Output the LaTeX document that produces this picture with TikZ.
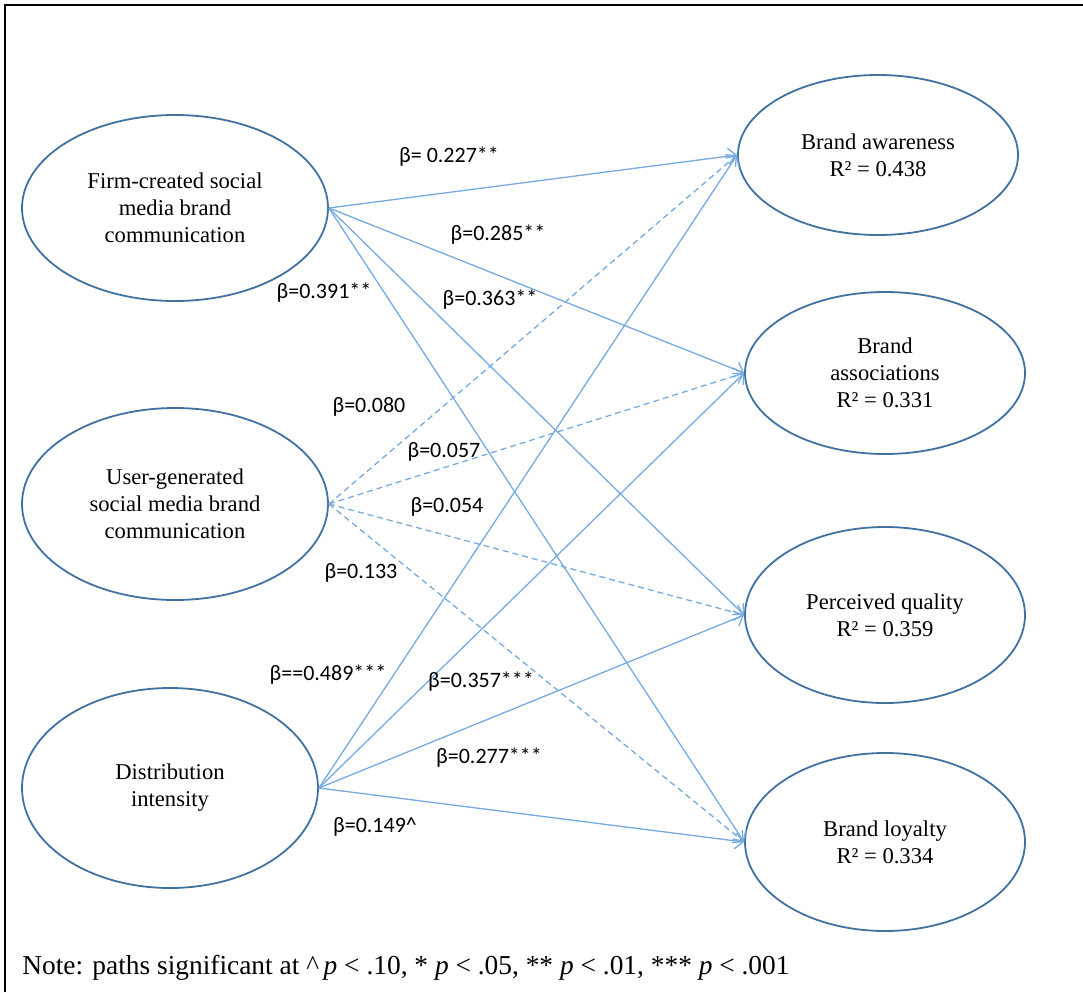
\documentclass[tikz,border=0pt]{standalone}
\usepackage{fontspec}
\setmainfont{Liberation Serif}
\newfontfamily\labelfont{Carlito}
\usepackage{tikz}
\usetikzlibrary{shapes.geometric,arrows.meta,positioning}
\definecolor{ellblue}{RGB}{65,113,160}
\definecolor{pathblue}{RGB}{118,170,224}

\begin{document}
\begin{tikzpicture}[x=0.5pt,y=-0.5pt,
        construct/.style={ellipse,draw=ellblue,line width=0.9pt,inner sep=0pt,align=center,
            font=\fontsize{11.3}{13.5}\selectfont},
        beta/.style={font=\labelfont\fontsize{11}{13}\selectfont,inner sep=0pt},
        sigpath/.style={draw=pathblue,line width=0.65pt,-{Straight Barb[length=4pt,width=8pt]}},
        nspath/.style={sigpath,dash pattern=on 3pt off 2pt}]
    \useasboundingbox (0,0) rectangle (1083,992);
    % frame
    \draw[line width=1pt] (5,992) -- (5,5) -- (1083,5);

    % exogenous constructs
    \node[construct,minimum width=153pt,minimum height=93pt] (firm) at (175,208) {Firm-created social\\media brand\\communication};
    \node[construct,minimum width=153pt,minimum height=96pt] (user) at (175,504) {User-generated\\social media brand\\communication};
    \node[construct,minimum width=148pt,minimum height=100pt] (dist) at (170,788) {Distribution\\intensity};

    % brand equity dimensions
    \node[construct,minimum width=140pt,minimum height=80pt] (aware) at (878,155) {Brand awareness\\R² = 0.438};
    \node[construct,minimum width=140pt,minimum height=81pt] (assoc) at (885,373) {Brand\\associations\\R² = 0.331};
    \node[construct,minimum width=140pt,minimum height=88pt] (qual) at (885,615) {Perceived quality\\R² = 0.359};
    \node[construct,minimum width=140pt,minimum height=89pt] (loyal) at (885,842) {Brand loyalty\\R² = 0.334};

    % paths
    \foreach \t in {aware,assoc,qual,loyal}
        \draw[sigpath] (firm.east) -- (\t.west);
    \foreach \t in {aware,assoc,qual,loyal}
        \draw[nspath] (user.east) -- (\t.west);
    \foreach \t in {aware,assoc,qual,loyal}
        \draw[sigpath] (dist.east) -- (\t.west);

    % coefficients
    \node[beta] (b227) at (449,157) {β= 0.227**};
    \node[beta] (b285) at (498,235) {β=0.285**};
    \node[beta] (b391) at (324,293) {β=0.391**};
    \node[beta] (b363) at (490,300) {β=0.363**};
    \node[beta] (b080) at (369,407) {β=0.080};
    \node[beta] (b057) at (444,452) {β=0.057};
    \node[beta] (b054) at (447,507) {β=0.054};
    \node[beta] (b133) at (361,573) {β=0.133};
    \node[beta] (b489) at (328,675) {β==0.489***};
    \node[beta] (b357) at (481,682) {β=0.357***};
    \node[beta] (b277) at (489,758) {β=0.277***};
    \node[beta] (b149) at (375,827) {β=0.149\textasciicircum};

    \node[anchor=west,inner sep=0pt,font=\fontsize{13.7}{16}\selectfont] (note) at (22,968)
        {Note: paths significant at \textasciicircum\,\textit{p} < .10, * \textit{p} < .05, ** \textit{p} < .01, *** \textit{p} < .001};
\end{tikzpicture}
\end{document}
